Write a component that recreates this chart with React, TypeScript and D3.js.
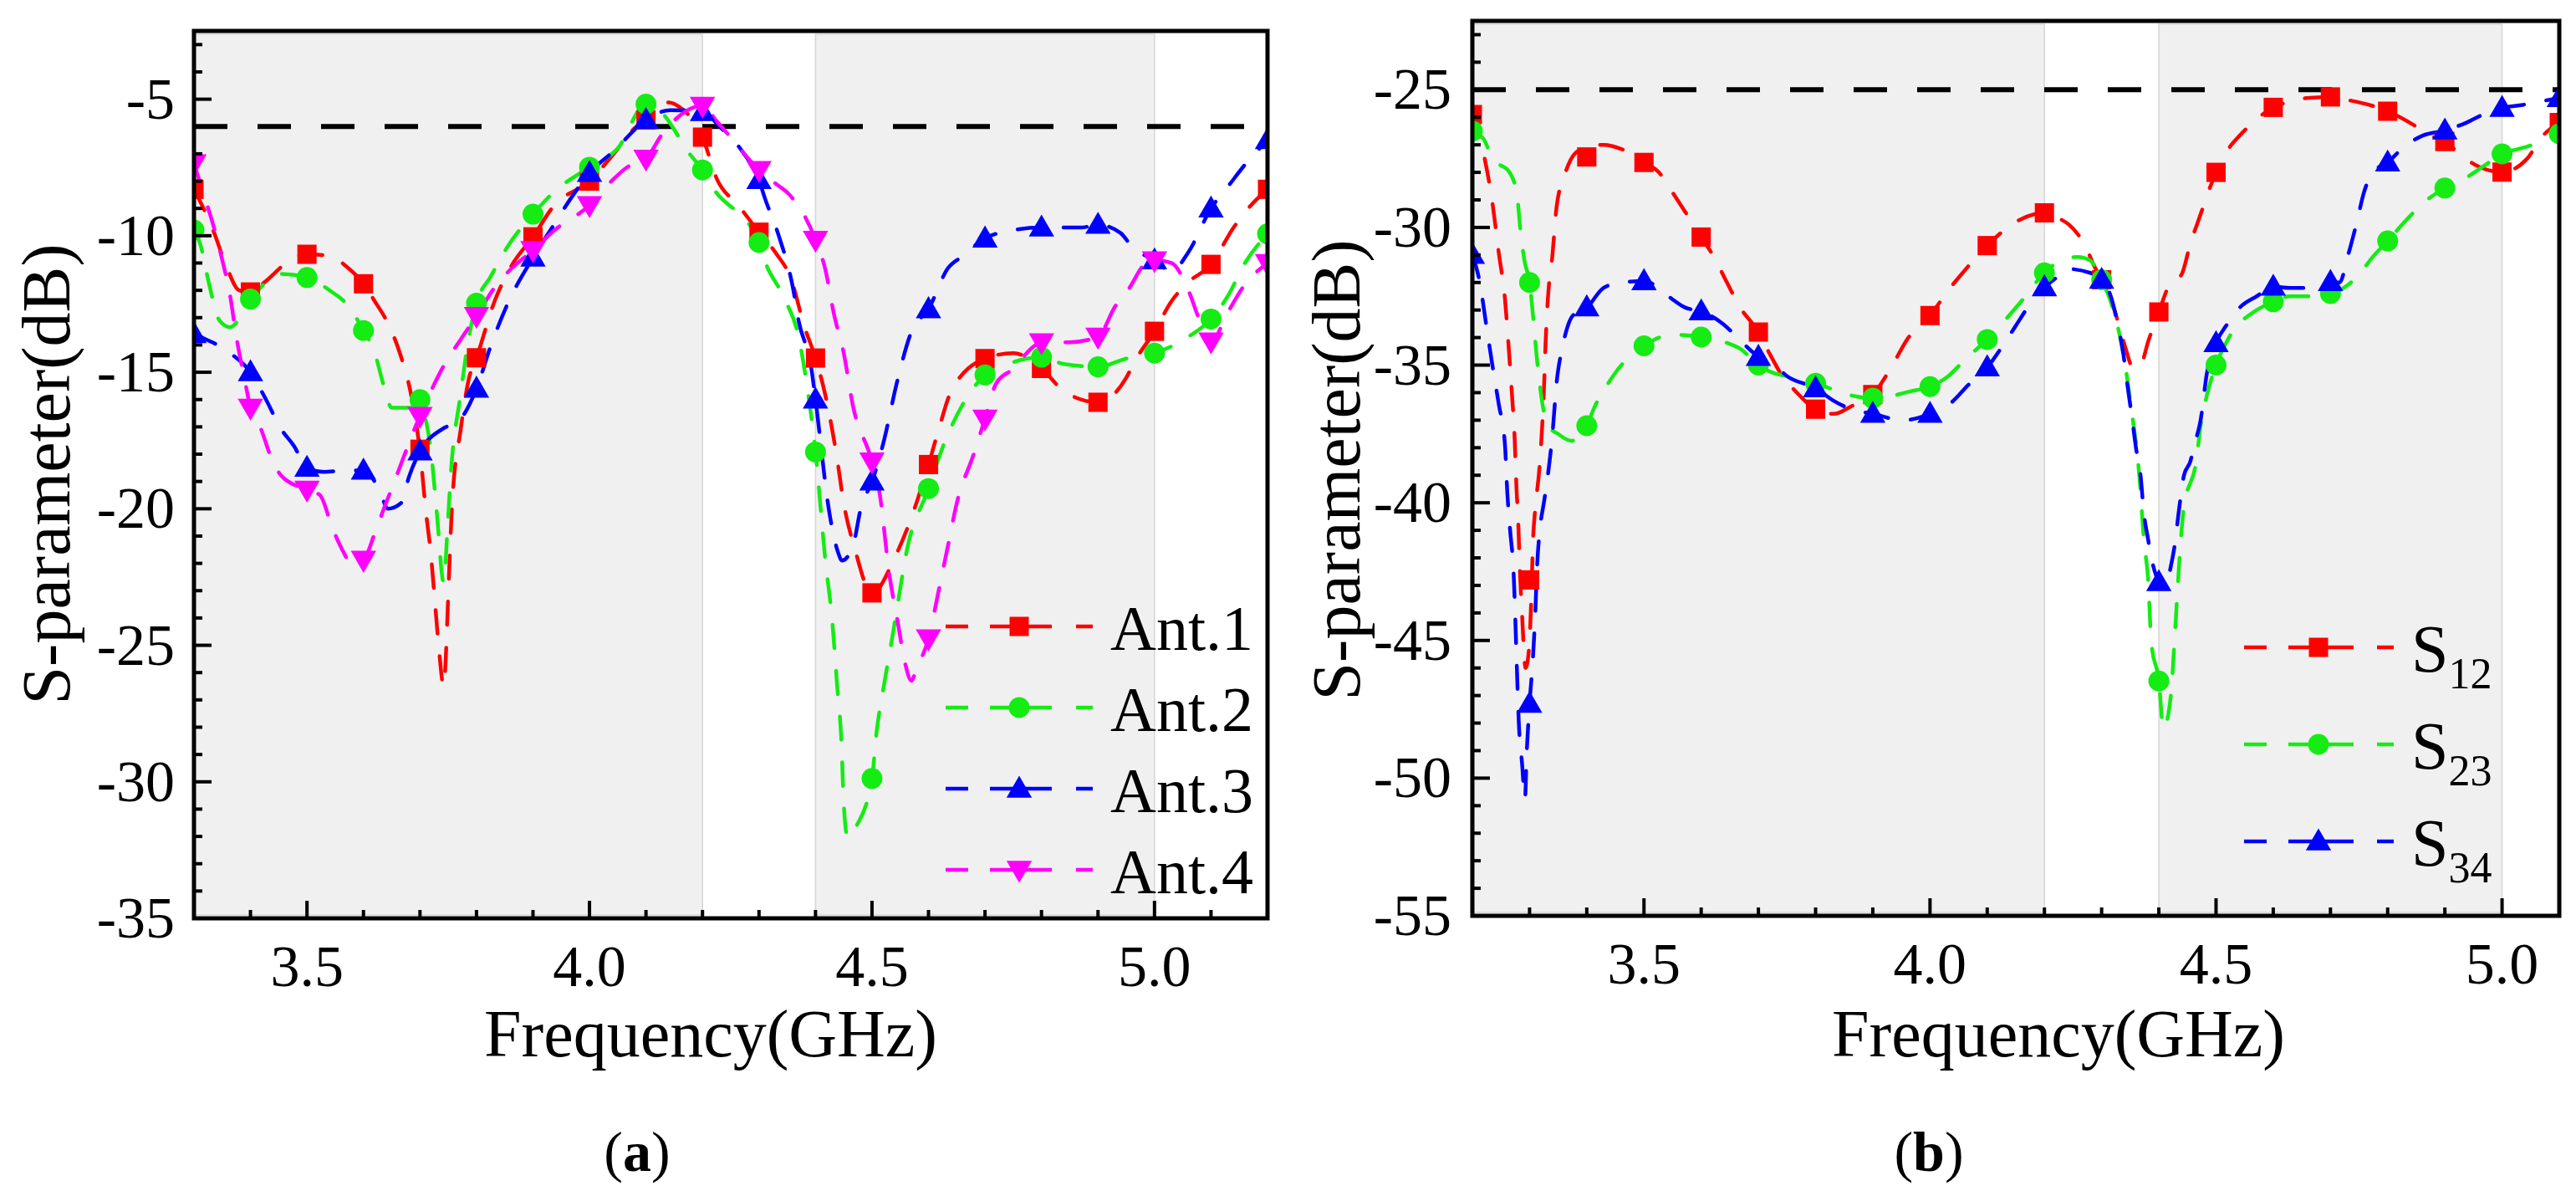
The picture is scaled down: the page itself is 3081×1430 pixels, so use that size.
import React from 'react';
import * as d3 from 'd3';

// ---------------- DATA ----------------
// Panel (a): marker frequencies and values (GHz, dB)
const freqA = [3.3, 3.4, 3.5, 3.6, 3.7, 3.8, 3.9, 4.0, 4.1, 4.2, 4.3, 4.4, 4.5, 4.6, 4.7, 4.8, 4.9, 5.0, 5.1, 5.2];
const ant1 = [-8.3, -12.06, -10.68, -11.76, -17.82, -14.47, -10.04, -8.0, -5.76, -6.39, -9.87, -14.48, -23.08, -18.38, -14.5, -14.86, -16.1, -13.5, -11.05, -8.3];
const ant2 = [-9.79, -12.32, -11.53, -13.47, -16.0, -12.47, -9.21, -7.49, -5.18, -7.59, -10.25, -17.92, -29.88, -19.26, -15.1, -14.45, -14.8, -14.3, -13.05, -9.93];
const ant3 = [-13.6, -15.0, -18.5, -18.6, -17.9, -15.6, -10.8, -7.7, -5.76, -5.47, -7.96, -16.0, -19.0, -12.69, -10.1, -9.7, -9.6, -10.9, -9.0, -6.5];
const ant4 = [-7.35, -16.3, -19.3, -21.87, -16.6, -12.94, -10.53, -8.88, -7.18, -5.24, -7.59, -10.15, -18.27, -24.75, -16.7, -13.9, -13.7, -10.9, -13.87, -11.0];

// Panel (a): dense curve traces [GHz, dB]
const ant1Line: [number, number][] = [[3.30,-8.3],[3.334,-9.8],[3.357,-11.1],[3.38,-12.0],[3.40,-12.06],[3.425,-11.7],[3.47,-10.9],[3.50,-10.68],[3.545,-10.76],[3.568,-11.1],[3.60,-11.76],[3.62,-12.4],[3.643,-13.2],[3.666,-14.4],[3.685,-15.9],[3.70,-17.9],[3.711,-20.2],[3.719,-21.6],[3.726,-23.3],[3.733,-25.0],[3.742,-26.5],[3.746,-25.3],[3.749,-23.7],[3.752,-22.1],[3.757,-19.8],[3.772,-17.1],[3.787,-15.2],[3.80,-14.47],[3.832,-12.4],[3.862,-11.1],[3.90,-10.04],[3.937,-8.9],[4.00,-8.0],[4.043,-7.0],[4.08,-6.06],[4.10,-5.76],[4.14,-5.12],[4.16,-5.3],[4.20,-6.39],[4.225,-7.9],[4.264,-8.9],[4.30,-9.87],[4.33,-10.64],[4.357,-11.6],[4.38,-13.3],[4.40,-14.48],[4.413,-15.45],[4.425,-16.6],[4.437,-18.0],[4.45,-19.8],[4.47,-21.5],[4.50,-23.1],[4.54,-21.8],[4.57,-20.3],[4.60,-18.38],[4.618,-17.1],[4.64,-15.7],[4.70,-14.5],[4.75,-14.3],[4.80,-14.86],[4.84,-15.7],[4.90,-16.1],[4.95,-15.2],[4.965,-14.6],[5.00,-13.5],[5.03,-12.4],[5.06,-11.7],[5.10,-11.05],[5.14,-9.7],[5.17,-8.9],[5.20,-8.3]];
const ant2Line: [number, number][] = [[3.30,-9.79],[3.311,-10.3],[3.326,-11.7],[3.345,-13.1],[3.364,-13.35],[3.40,-12.32],[3.455,-11.4],[3.50,-11.53],[3.54,-12.0],[3.57,-12.5],[3.60,-13.47],[3.62,-14.3],[3.636,-15.5],[3.65,-16.3],[3.70,-16.3],[3.72,-18.0],[3.73,-20.2],[3.742,-22.7],[3.749,-20.6],[3.755,-18.6],[3.772,-15.8],[3.785,-13.9],[3.80,-12.47],[3.825,-11.5],[3.855,-10.4],[3.90,-9.21],[3.937,-8.4],[4.00,-7.49],[4.05,-6.8],[4.10,-5.18],[4.128,-5.5],[4.177,-7.0],[4.20,-7.59],[4.217,-8.2],[4.30,-10.25],[4.31,-10.9],[4.345,-12.3],[4.37,-13.7],[4.385,-15.5],[4.40,-17.92],[4.417,-21.8],[4.43,-24.2],[4.438,-26.4],[4.446,-28.6],[4.45,-30.8],[4.457,-32.05],[4.473,-31.6],[4.50,-29.88],[4.508,-28.2],[4.52,-26.6],[4.536,-24.7],[4.547,-23.3],[4.56,-21.7],[4.60,-19.26],[4.626,-17.7],[4.66,-16.2],[4.70,-15.1],[4.74,-14.7],[4.80,-14.45],[4.84,-14.7],[4.90,-14.8],[4.95,-14.5],[5.00,-14.3],[5.06,-13.7],[5.10,-13.05],[5.13,-12.2],[5.16,-11.0],[5.20,-9.93]];
const ant3Line: [number, number][] = [[3.30,-13.6],[3.311,-13.7],[3.364,-14.3],[3.40,-15.0],[3.425,-15.9],[3.455,-17.1],[3.477,-17.7],[3.50,-18.5],[3.53,-18.65],[3.568,-18.6],[3.60,-18.6],[3.63,-19.4],[3.643,-20.0],[3.666,-19.8],[3.681,-18.8],[3.70,-17.9],[3.741,-17.06],[3.768,-16.8],[3.80,-15.6],[3.825,-14.05],[3.855,-12.5],[3.90,-10.8],[3.937,-9.6],[3.968,-8.6],[4.00,-7.7],[4.043,-6.9],[4.10,-5.76],[4.143,-5.4],[4.20,-5.47],[4.233,-6.06],[4.27,-6.9],[4.30,-7.96],[4.31,-8.6],[4.335,-10.0],[4.36,-11.9],[4.37,-13.1],[4.393,-14.9],[4.40,-16.0],[4.425,-20.2],[4.44,-21.6],[4.447,-21.9],[4.467,-21.3],[4.48,-20.0],[4.50,-19.0],[4.52,-17.6],[4.545,-15.3],[4.57,-13.5],[4.60,-12.69],[4.634,-11.2],[4.66,-10.75],[4.70,-10.1],[4.748,-9.8],[4.80,-9.7],[4.87,-9.7],[4.90,-9.6],[4.94,-9.9],[4.96,-10.4],[5.00,-10.9],[5.03,-11.3],[5.06,-10.6],[5.10,-9.0],[5.13,-8.2],[5.16,-7.4],[5.20,-6.5]];
const ant4Line: [number, number][] = [[3.30,-7.35],[3.319,-8.6],[3.334,-9.6],[3.349,-10.8],[3.364,-12.2],[3.375,-13.7],[3.39,-15.3],[3.40,-16.3],[3.417,-17.0],[3.44,-18.3],[3.455,-18.8],[3.50,-19.3],[3.523,-19.5],[3.545,-20.7],[3.56,-21.4],[3.58,-22.0],[3.60,-21.87],[3.62,-20.9],[3.636,-20.0],[3.651,-19.2],[3.70,-16.6],[3.741,-14.8],[3.772,-13.8],[3.80,-12.94],[3.832,-11.9],[3.862,-11.2],[3.90,-10.53],[3.938,-9.8],[4.00,-8.88],[4.036,-8.06],[4.066,-7.5],[4.10,-7.18],[4.128,-6.3],[4.20,-5.24],[4.225,-5.8],[4.25,-6.4],[4.30,-7.59],[4.33,-8.1],[4.354,-8.5],[4.40,-10.15],[4.417,-11.2],[4.433,-12.9],[4.45,-14.3],[4.466,-16.2],[4.50,-18.27],[4.514,-19.5],[4.53,-22.3],[4.546,-24.2],[4.558,-25.6],[4.57,-26.3],[4.578,-25.9],[4.60,-24.75],[4.618,-23.0],[4.635,-21.3],[4.65,-19.8],[4.68,-18.0],[4.70,-16.7],[4.72,-15.4],[4.748,-14.9],[4.79,-14.0],[4.80,-13.9],[4.85,-13.9],[4.90,-13.7],[4.93,-12.6],[4.956,-11.9],[4.98,-11.1],[5.00,-10.9],[5.03,-11.0],[5.06,-12.0],[5.08,-13.1],[5.10,-13.87],[5.13,-12.8],[5.156,-11.9],[5.20,-11.0]];

// Panel (b): marker frequencies and values
const freqB = [3.2, 3.3, 3.4, 3.5, 3.6, 3.7, 3.8, 3.9, 4.0, 4.1, 4.2, 4.3, 4.4, 4.5, 4.6, 4.7, 4.8, 4.9, 5.0, 5.1];
const s12 = [-25.9, -42.8, -27.44, -27.64, -30.35, -33.8, -36.6, -36.07, -33.2, -30.66, -29.47, -31.9, -33.07, -28.0, -25.64, -25.26, -25.78, -26.88, -27.99, -26.19];
const s23 = [-26.5, -32.0, -37.2, -34.3, -33.98, -35.0, -35.66, -36.2, -35.78, -34.07, -31.65, -31.9, -46.47, -35.0, -32.7, -32.4, -30.49, -28.57, -27.33, -26.6];
const s34 = [-31.0, -47.3, -32.9, -31.95, -33.05, -34.7, -35.84, -36.77, -36.77, -35.08, -32.17, -31.9, -42.88, -34.2, -32.15, -31.98, -27.64, -26.48, -25.66, -25.3];

const s12Line: [number, number][] = [[3.20,-25.9],[3.22,-27.35],[3.235,-29.1],[3.246,-30.9],[3.257,-32.6],[3.264,-34.5],[3.269,-36.0],[3.274,-37.7],[3.277,-39.4],[3.28,-40.6],[3.283,-42.4],[3.287,-44.1],[3.293,-46.0],[3.299,-45.3],[3.303,-43.5],[3.306,-41.4],[3.31,-40.2],[3.317,-38.8],[3.321,-37.6],[3.325,-35.95],[3.328,-34.2],[3.332,-32.6],[3.34,-31.0],[3.347,-29.3],[3.362,-28.05],[3.38,-27.3],[3.40,-27.1],[3.43,-27.0],[3.46,-27.15],[3.50,-27.64],[3.526,-28.0],[3.549,-28.7],[3.571,-29.4],[3.60,-30.35],[3.623,-31.1],[3.645,-32.0],[3.668,-32.9],[3.70,-33.8],[3.72,-34.6],[3.742,-35.4],[3.765,-35.95],[3.80,-36.6],[3.832,-36.77],[3.862,-36.5],[3.90,-36.07],[3.937,-34.9],[3.959,-34.1],[4.00,-33.2],[4.035,-32.2],[4.057,-31.65],[4.10,-30.66],[4.15,-29.8],[4.20,-29.47],[4.228,-29.7],[4.243,-29.9],[4.272,-30.7],[4.287,-31.4],[4.30,-31.9],[4.316,-32.6],[4.331,-33.6],[4.342,-34.4],[4.355,-35.1],[4.368,-35.0],[4.382,-34.1],[4.40,-33.07],[4.418,-32.1],[4.44,-31.7],[4.455,-30.6],[4.47,-29.7],[4.50,-28.0],[4.52,-27.2],[4.542,-26.65],[4.564,-26.2],[4.60,-25.64],[4.629,-25.43],[4.658,-25.3],[4.70,-25.26],[4.73,-25.37],[4.80,-25.78],[4.847,-26.3],[4.873,-26.65],[4.90,-26.88],[4.927,-27.35],[4.96,-27.8],[5.00,-27.99],[5.044,-27.5],[5.066,-26.8],[5.10,-26.19]];
const s23Line: [number, number][] = [[3.20,-26.5],[3.22,-26.8],[3.235,-27.5],[3.265,-28.0],[3.278,-28.8],[3.284,-30.1],[3.291,-31.2],[3.30,-32.0],[3.306,-33.2],[3.313,-34.8],[3.321,-36.2],[3.332,-37.2],[3.35,-37.5],[3.373,-37.75],[3.40,-37.2],[3.414,-36.5],[3.429,-35.95],[3.451,-35.25],[3.474,-34.7],[3.50,-34.3],[3.526,-34.0],[3.549,-33.9],[3.60,-33.98],[3.646,-34.2],[3.668,-34.4],[3.70,-35.0],[3.728,-35.3],[3.75,-35.4],[3.78,-35.6],[3.80,-35.66],[3.832,-35.9],[3.862,-36.1],[3.90,-36.2],[3.937,-36.1],[3.966,-35.95],[4.00,-35.78],[4.032,-35.4],[4.061,-34.8],[4.10,-34.07],[4.134,-33.3],[4.163,-32.6],[4.20,-31.65],[4.229,-31.2],[4.259,-31.07],[4.28,-31.2],[4.30,-31.9],[4.316,-32.7],[4.331,-33.86],[4.342,-35.1],[4.35,-36.3],[4.367,-39.3],[4.374,-41.4],[4.381,-42.7],[4.387,-45.1],[4.40,-46.47],[4.408,-48.2],[4.421,-47.0],[4.428,-44.8],[4.435,-42.4],[4.443,-40.3],[4.466,-38.4],[4.473,-37.2],[4.484,-36.1],[4.50,-35.0],[4.52,-34.1],[4.535,-33.6],[4.557,-33.2],[4.60,-32.7],[4.629,-32.5],[4.658,-32.5],[4.70,-32.4],[4.73,-32.1],[4.752,-31.65],[4.774,-31.07],[4.80,-30.49],[4.834,-29.7],[4.863,-29.1],[4.90,-28.57],[4.937,-28.2],[4.966,-27.8],[5.00,-27.33],[5.038,-27.1],[5.067,-26.9],[5.10,-26.6]];
const s34Line: [number, number][] = [[3.20,-31.0],[3.213,-32.0],[3.224,-33.5],[3.235,-35.0],[3.246,-36.4],[3.257,-37.9],[3.261,-39.6],[3.266,-41.0],[3.272,-42.5],[3.278,-46.1],[3.281,-47.9],[3.287,-49.5],[3.292,-50.75],[3.295,-49.1],[3.30,-47.3],[3.306,-45.6],[3.31,-44.0],[3.313,-42.4],[3.319,-40.8],[3.325,-40.0],[3.332,-39.0],[3.34,-37.5],[3.347,-35.7],[3.358,-34.3],[3.37,-33.4],[3.384,-33.05],[3.40,-32.9],[3.429,-32.2],[3.46,-32.0],[3.50,-31.95],[3.526,-32.2],[3.549,-32.6],[3.571,-32.9],[3.60,-33.05],[3.638,-33.5],[3.668,-34.1],[3.70,-34.7],[3.728,-35.0],[3.75,-35.4],[3.80,-35.84],[3.832,-36.3],[3.862,-36.6],[3.90,-36.77],[3.952,-37.0],[4.00,-36.77],[4.035,-36.4],[4.068,-35.7],[4.10,-35.08],[4.127,-34.3],[4.149,-33.6],[4.171,-32.9],[4.20,-32.17],[4.222,-31.8],[4.236,-31.5],[4.28,-31.65],[4.30,-31.9],[4.316,-32.5],[4.327,-33.4],[4.338,-34.6],[4.345,-35.7],[4.353,-36.9],[4.36,-38.0],[4.368,-39.0],[4.374,-40.4],[4.381,-41.3],[4.388,-42.1],[4.40,-42.88],[4.41,-43.1],[4.422,-42.2],[4.428,-41.5],[4.435,-40.3],[4.444,-39.0],[4.455,-38.5],[4.462,-37.9],[4.473,-37.0],[4.484,-35.3],[4.50,-34.2],[4.52,-33.5],[4.542,-32.9],[4.571,-32.5],[4.60,-32.15],[4.629,-32.2],[4.658,-32.2],[4.70,-31.98],[4.716,-32.0],[4.73,-31.07],[4.745,-29.9],[4.759,-28.7],[4.774,-28.0],[4.80,-27.64],[4.827,-27.1],[4.863,-26.65],[4.90,-26.48],[4.937,-26.2],[4.973,-25.84],[5.00,-25.66],[5.036,-25.55],[5.066,-25.43],[5.10,-25.3]];

// Axis ticks and labels
const xTicksMajor = [3.5, 4.0, 4.5, 5.0];
const yTicksA = [-35, -30, -25, -20, -15, -10, -5];
const yTicksB = [-55, -50, -45, -40, -35, -30, -25];
const bandsA: [number, number][] = [[3.3, 4.2], [4.4, 5.0]];
const bandsB: [number, number][] = [[3.2, 4.2], [4.4, 5.0]];
const refA = -6;
const refB = -25;
const namesA = ['Ant.1', 'Ant.2', 'Ant.3', 'Ant.4'];
const namesB = [['S', '12'], ['S', '23'], ['S', '34']];
const xTitle = 'Frequency(GHz)';
const yTitle = 'S-parameter(dB)';

// ---------------- STYLE / LAYOUT ----------------
const FONT = 'Liberation Serif';
const RED = '#ff0000';
const GREEN = '#14ec14';
const BLUE = '#0000ff';
const MAGENTA = '#ff00ff';

type Shape = 'square' | 'circle' | 'up' | 'down';
interface Series { line: [number, number][]; freqs: number[]; vals: number[]; color: string; shape: Shape; }

function markerPath(shape: Shape): string {
  if (shape === 'square') return d3.symbol().type(d3.symbolSquare).size(530)() as string;
  if (shape === 'circle') return d3.symbol().type(d3.symbolCircle).size(490)() as string;
  return d3.symbol().type(d3.symbolTriangle).size(400)() as string;
}

function Marker({ shape, cx, cy, color }: { shape: Shape; cx: number; cy: number; color: string }) {
  const rot = shape === 'down' ? ' rotate(180)' : '';
  const dy = shape === 'up' ? 2 : shape === 'down' ? -2 : 0;
  return <path d={markerPath(shape)} fill={color} transform={`translate(${cx},${cy + dy})${rot}`} />;
}

interface PanelCfg {
  id: string;
  left: number; right: number; top: number; bottom: number;
  xDomain: [number, number]; yDomain: [number, number];
  yTicks: number[]; bands: [number, number][]; ref: number;
  series: Series[];
  yLabelX: number; xLabelY: number;
  xTitleX: number; xTitleY: number; yTitleX: number; yTitleY: number;
  tag: string; tagX: number; tagY: number;
}

function Panel({ cfg, legend }: { cfg: PanelCfg; legend: React.ReactNode }) {
  const x = d3.scaleLinear().domain(cfg.xDomain).range([cfg.left, cfg.right]);
  const y = d3.scaleLinear().domain(cfg.yDomain).range([cfg.bottom, cfg.top]);
  const line = d3.line<[number, number]>().x(d => x(d[0])).y(d => y(d[1])).curve(d3.curveMonotoneX);
  const xMinor = d3.range(Math.round(cfg.xDomain[0] * 10), Math.round(cfg.xDomain[1] * 10) + 1).map(v => v / 10);
  const yMinor = d3.range(Math.ceil(cfg.yDomain[0]), Math.floor(cfg.yDomain[1]) + 1);
  const isMajorX = (v: number) => xTicksMajor.some(t => Math.abs(t - v) < 1e-6);
  const isMajorY = (v: number) => cfg.yTicks.includes(v);
  return (
    <g fontFamily={FONT}>
      <defs>
        <clipPath id={`clip-${cfg.id}`}>
          <rect x={cfg.left} y={cfg.top} width={cfg.right - cfg.left} height={cfg.bottom - cfg.top} />
        </clipPath>
      </defs>
      {cfg.bands.map((b, i) => (
        <rect key={i} x={x(b[0])} y={cfg.top + 4} width={x(b[1]) - x(b[0])} height={cfg.bottom - cfg.top - 8}
          fill="#f0f0f0" stroke="#d6d6d6" strokeWidth={1.5} />
      ))}
      <line x1={cfg.left} x2={cfg.right} y1={y(cfg.ref)} y2={y(cfg.ref)} stroke="#000" strokeWidth={6} strokeDasharray="40 36" />
      <g clipPath={`url(#clip-${cfg.id})`}>
        {cfg.series.map((s, i) => (
          <path key={i} d={line(s.line) as string} fill="none" stroke={s.color} strokeWidth={4.5} strokeDasharray="28 27" strokeLinecap="round" />
        ))}
        {cfg.series.map((s, i) => (
          <g key={i}>
            {s.freqs.map((f, j) => <Marker key={j} shape={s.shape} cx={x(f)} cy={y(s.vals[j])} color={s.color} />)}
          </g>
        ))}
      </g>
      {xMinor.map((v, i) => (
        <line key={i} x1={x(v)} x2={x(v)} y1={cfg.bottom} y2={cfg.bottom - (isMajorX(v) ? 21 : 10)} stroke="#000" strokeWidth={4} />
      ))}
      {yMinor.map((v, i) => (
        <line key={i} x1={cfg.left} x2={cfg.left + (isMajorY(v) ? 21 : 10)} y1={y(v)} y2={y(v)} stroke="#000" strokeWidth={4} />
      ))}
      <rect x={cfg.left} y={cfg.top} width={cfg.right - cfg.left} height={cfg.bottom - cfg.top} fill="none" stroke="#000" strokeWidth={5} />
      {cfg.yTicks.map((v, i) => (
        <text key={i} x={cfg.yLabelX} y={y(v) + 23} textAnchor="end" fontFamily={FONT} fontSize={70}>{String(v)}</text>
      ))}
      {xTicksMajor.map((v, i) => (
        <text key={i} x={x(v)} y={cfg.xLabelY} textAnchor="middle" fontFamily={FONT} fontSize={70}>{v.toFixed(1)}</text>
      ))}
      <text x={cfg.xTitleX} y={cfg.xTitleY} textAnchor="middle" fontFamily={FONT} fontSize={80}>{xTitle}</text>
      <text transform={`translate(${cfg.yTitleX},${cfg.yTitleY}) rotate(-90)`} textAnchor="middle" fontFamily={FONT} fontSize={82}>{yTitle}</text>
      <text x={cfg.tagX} y={cfg.tagY} textAnchor="middle" fontFamily={FONT} fontSize={68}>
        (<tspan fontWeight="bold">{cfg.tag}</tspan>)
      </text>
      {legend}
    </g>
  );
}

function LegendRow({ cy, x0, x1, mx, gap, color, shape }: { cy: number; x0: number; x1: number; mx: number; gap: [number, number]; color: string; shape: Shape }) {
  return (
    <g>
      <line x1={x0} x2={x0 + 27} y1={cy} y2={cy} stroke={color} strokeWidth={4.5} />
      <line x1={gap[0]} x2={gap[1]} y1={cy} y2={cy} stroke={color} strokeWidth={4.5} />
      <line x1={x1 - 20} x2={x1} y1={cy} y2={cy} stroke={color} strokeWidth={4.5} />
      <Marker shape={shape} cx={mx} cy={cy} color={color} />
    </g>
  );
}

export default function App() {
  const seriesA: Series[] = [
    { line: ant1Line, freqs: freqA, vals: ant1, color: RED, shape: 'square' },
    { line: ant2Line, freqs: freqA, vals: ant2, color: GREEN, shape: 'circle' },
    { line: ant3Line, freqs: freqA, vals: ant3, color: BLUE, shape: 'up' },
    { line: ant4Line, freqs: freqA, vals: ant4, color: MAGENTA, shape: 'down' },
  ];
  const seriesB: Series[] = [
    { line: s12Line, freqs: freqB, vals: s12, color: RED, shape: 'square' },
    { line: s23Line, freqs: freqB, vals: s23, color: GREEN, shape: 'circle' },
    { line: s34Line, freqs: freqB, vals: s34, color: BLUE, shape: 'up' },
  ];
  const cfgA: PanelCfg = {
    id: 'a', left: 232, right: 1516, top: 37, bottom: 1098,
    xDomain: [3.3, 5.2], yDomain: [-35, -2.5], yTicks: yTicksA, bands: bandsA, ref: refA, series: seriesA,
    yLabelX: 209, xLabelY: 1179, xTitleX: 850, xTitleY: 1263, yTitleX: 83, yTitleY: 567,
    tag: 'a', tagX: 762, tagY: 1400,
  };
  const cfgB: PanelCfg = {
    id: 'b', left: 1761, right: 3061, top: 25, bottom: 1095,
    xDomain: [3.2, 5.1], yDomain: [-55, -22.5], yTicks: yTicksB, bands: bandsB, ref: refB, series: seriesB,
    yLabelX: 1736, xLabelY: 1176, xTitleX: 2462, xTitleY: 1263, yTitleX: 1626, yTitleY: 562,
    tag: 'b', tagX: 2307, tagY: 1400,
  };
  const rowsA = [749, 846, 943, 1040];
  const rowsB = [774, 890, 1006];
  const legendA = (
    <g>
      {seriesA.map((s, i) => (
        <g key={i}>
          <LegendRow cy={rowsA[i]} x0={1131} x1={1307} mx={1219} gap={[1184, 1258]} color={s.color} shape={s.shape} />
          <text x={1328} y={rowsA[i] + 28} fontFamily={FONT} fontSize={76}>{namesA[i]}</text>
        </g>
      ))}
    </g>
  );
  const legendB = (
    <g>
      {seriesB.map((s, i) => (
        <g key={i}>
          <LegendRow cy={rowsB[i]} x0={2684} x1={2863} mx={2773} gap={[2737, 2815]} color={s.color} shape={s.shape} />
          <text x={2884} y={rowsB[i] + 29} fontFamily={FONT} fontSize={80}>
            {namesB[i][0]}<tspan fontSize={52} dy={20}>{namesB[i][1]}</tspan>
          </text>
        </g>
      ))}
    </g>
  );
  return (
    <svg width={3081} height={1430} style={{ position: 'absolute', left: 0, top: 0, background: '#fff' }}>
      <rect x={0} y={0} width={3081} height={1430} fill="#fff" />
      <Panel cfg={cfgA} legend={legendA} />
      <Panel cfg={cfgB} legend={legendB} />
    </svg>
  );
}
